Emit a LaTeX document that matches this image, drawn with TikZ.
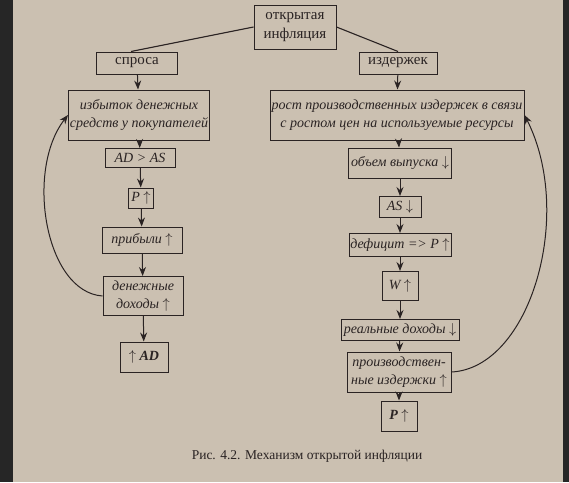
\documentclass[tikz,border=0pt]{standalone}
\usepackage{fontspec}
\setmainfont{Liberation Serif}
\usetikzlibrary{arrows.meta}
\definecolor{paper}{RGB}{203,192,177}
\definecolor{ink}{RGB}{42,35,35}
\tikzset{
  box/.style={draw=ink, line width=1pt, inner xsep=1pt, inner ysep=1pt, align=center,
    text=ink, font=\fontsize{14}{18}\selectfont\itshape},
  head/.style={box, font=\fontsize{15}{19}\selectfont},
  strong/.style={box, font=\fontsize{14}{18}\selectfont\bfseries\itshape},
  arr/.style={draw=ink, line width=1pt, -{Stealth[length=9pt,width=7pt,inset=3pt]}},
}
\begin{document}
\begin{tikzpicture}[x=1pt, y=-1pt]
  \fill[black!85] (0,0) rectangle (569,482);
  \fill[paper] (13,0) rectangle (563,482);
  \useasboundingbox (0,0) rectangle (569,482);
  % top
  \node [head, minimum width=82pt, minimum height=44pt] (top) at (295,27) {открытая\\инфляция};
  \node [head, minimum width=81pt, minimum height=22pt] (dem) at (137,63) {спроса};
  \node [head, minimum width=78pt, minimum height=22pt] (cost) at (398,63) {издержек};
  \draw [ink, line width=1.1pt] (top.west) -- ([xshift=-6pt]dem.north);
  \draw [ink, line width=1.1pt] (top.east) -- (cost.north);
  % left column
  \node [box, minimum width=141pt, minimum height=50pt] (izb) at (139,115) {избыток денежных\\средств у покупателей};
  \node [box, minimum width=70pt, minimum height=19pt] (adas) at (140,158) {AD > AS};
  \node [box, minimum width=25pt, minimum height=20pt] (p1) at (141,198) {P $\uparrow$};
  \node [box, minimum width=80pt, minimum height=26pt] (prib) at (142,240) {прибыли $\uparrow$};
  \node [box, minimum width=80pt, minimum height=39pt] (den) at (143,296) {денежные\\доходы $\uparrow$};
  \node [strong, minimum width=48pt, minimum height=30pt] (ad) at (144,357) {$\uparrow$ AD};
  % right column
  \node [box, minimum width=254pt, minimum height=50pt] (ros) at (397,115) {рост производственных издержек в связи\\с ростом цен на используемые ресурсы};
  \node [box, minimum width=103pt, minimum height=30pt] (vyp) at (400,163) {объем выпуска $\downarrow$};
  \node [box, minimum width=42pt, minimum height=21pt] (as) at (400,207) {AS $\downarrow$};
  \node [box, minimum width=102pt, minimum height=23pt] (def) at (400,245) {дефицит => P $\uparrow$};
  \node [box, minimum width=36pt, minimum height=29pt] (w) at (400,286) {W $\uparrow$};
  \node [box, minimum width=118pt, minimum height=21pt] (real) at (400,330) {реальные доходы $\downarrow$};
  \node [box, minimum width=104pt, minimum height=40pt] (proiz) at (399,372) {производствен-\\ные издержки $\uparrow$};
  \node [strong, minimum width=36pt, minimum height=30pt] (p2) at (399,416) {P $\uparrow$};
  % arrows
  \draw [arr] (dem) -- (izb);
  \draw [arr] (izb) -- (adas);
  \draw [arr] (adas) -- (p1);
  \draw [arr] (p1) -- (prib);
  \draw [arr] (prib) -- (den);
  \draw [arr] (den) -- (ad);
  \draw [arr] (cost) -- (ros);
  \draw [arr] (ros) -- (vyp);
  \draw [arr] (vyp) -- (as);
  \draw [arr] (as) -- (def);
  \draw [arr] (def) -- (w);
  \draw [arr] (w) -- (real);
  \draw [arr] (real) -- (proiz);
  \draw [arr] (proiz) -- (p2);
  % feedback loops
  \draw [arr] (den.west) .. controls (45,292) and (25,170) .. (izb.west);
  \draw [arr] (proiz.east) .. controls (530,368) and (575,215) .. (ros.east);
  \node [text=ink, font=\fontsize{13.5}{16}\selectfont] (cap) at (307,456) {Рис. 4.2. Механизм открытой инфляции};
\end{tikzpicture}
\end{document}
